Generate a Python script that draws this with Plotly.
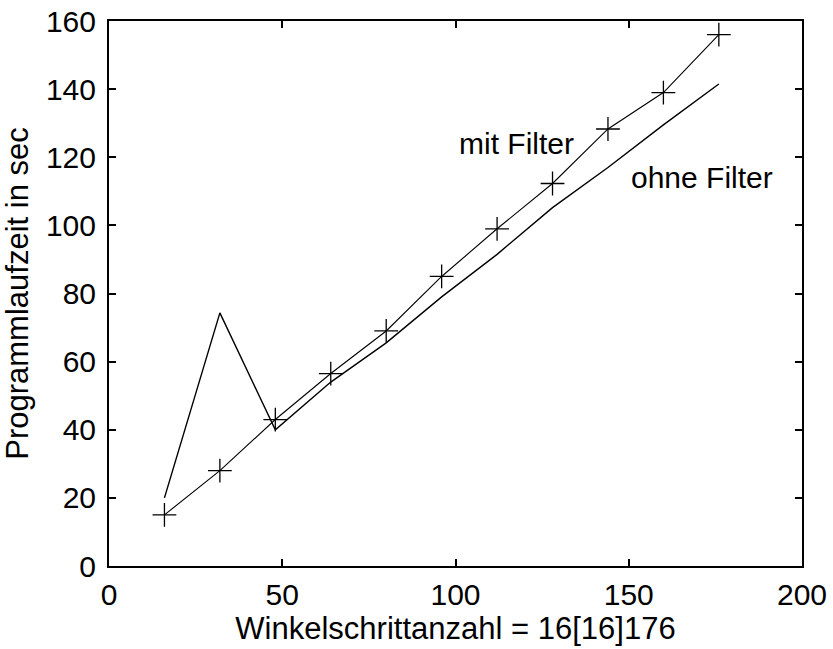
import plotly.graph_objects as go

x_steps = [16, 32, 48, 64, 80, 96, 112, 128, 144, 160, 176]
mit_filter = [15, 28, 43, 56.5, 69, 85, 99, 112.3, 128.3, 139, 156]
ohne_filter = [20, 74.3, 40, 54, 65.5, 79, 91.5, 105.2, 117, 129.5, 141.5]

x_ticks = [0, 50, 100, 150, 200]
y_ticks = [0, 20, 40, 60, 80, 100, 120, 140, 160]

FONT = "Liberation Sans, Arial, sans-serif"

fig = go.Figure()
fig.add_trace(go.Scatter(
    x=x_steps, y=ohne_filter, mode="lines",
    line=dict(color="black", width=1.4), showlegend=False))
fig.add_trace(go.Scatter(
    x=x_steps, y=mit_filter, mode="lines+markers",
    line=dict(color="black", width=1.1),
    marker=dict(symbol="cross-thin", size=17, line=dict(color="black", width=1.3)),
    showlegend=False))

fig.add_annotation(x=117.7, y=124.1, text="mit Filter", showarrow=False,
                   font=dict(family=FONT, size=30, color="black"))
fig.add_annotation(x=171.1, y=114.1, text="ohne Filter", showarrow=False,
                   font=dict(family=FONT, size=30, color="black"))

axis_common = dict(
    showgrid=False, zeroline=False, showline=True, linecolor="black", linewidth=2,
    mirror="ticks", ticks="inside", ticklen=7, tickwidth=1.5, tickcolor="black",
    tickfont=dict(family=FONT, size=30, color="black"),
)

fig.update_xaxes(range=[0, 200], tickvals=x_ticks, ticktext=[str(v) for v in x_ticks],
                 title=dict(text="Winkelschrittanzahl = 16[16]176",
                            font=dict(family=FONT, size=31, color="black"), standoff=4),
                 ticklabelstandoff=1, **axis_common)
fig.update_yaxes(range=[0, 160], tickvals=y_ticks, ticktext=[str(v) for v in y_ticks],
                 title=dict(text="Programmlaufzeit in sec",
                            font=dict(family=FONT, size=31, color="black"), standoff=8),
                 ticklabelstandoff=5, **axis_common)

fig.update_layout(
    width=833, height=649,
    margin=dict(l=109, r=31, t=21, b=83, autoexpand=False),
    paper_bgcolor="white", plot_bgcolor="white",
)

fig.write_html("out.html")
